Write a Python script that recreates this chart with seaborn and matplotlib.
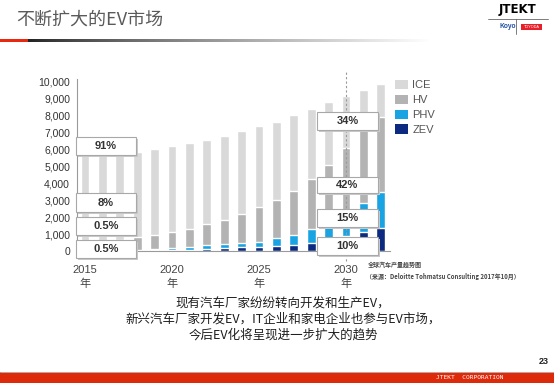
import numpy as np
import pandas as pd
import matplotlib
matplotlib.use('Agg')
import matplotlib.pyplot as plt
from matplotlib.patches import Rectangle, Patch
from matplotlib.lines import Line2D
import seaborn as sns

# ── Datos (miles de vehículos, lectura aproximada del gráfico) ──────────────
years = list(range(2015, 2033))
ice = [5250, 5200, 5150, 5000, 5040, 5030, 5040, 4960, 4960, 4900, 4800, 4610, 4450, 4090, 3680, 3100, 2070, 1920]
hv  = [420, 510, 600, 780, 840, 980, 1070, 1220, 1430, 1730, 2020, 2250, 2590, 2970, 3360, 3760, 4600, 4400]
phv = [20, 25, 30, 45, 60, 110, 160, 230, 230, 220, 300, 460, 610, 780, 1050, 1370, 1660, 2170]
zev = [10, 15, 20, 25, 40, 50, 60, 120, 160, 230, 250, 290, 350, 490, 650, 910, 1140, 1330]

series_names  = ['ICE', 'HV', 'PHV', 'ZEV']
series_colors = ['#d9d9d9', '#b3b3b3', '#1aa3e3', '#0b2a80']
year_labels   = [2015, 2020, 2025, 2030]
y_ticks       = list(range(0, 10001, 1000))
share_2015    = ['91%', '8%', '0.5%', '0.5%']
share_2030    = ['34%', '42%', '15%', '10%']

title   = '不断扩大的EV市场'
caption = ['现有汽车厂家纷纷转向开发和生产EV，',
           '新兴汽车厂家开发EV，IT企业和家电企业也参与EV市场，',
           '今后EV化将呈现进一步扩大的趋势']
source  = ['全球汽车产量趋势图', '（来源：Deloitte Tohmatsu Consulting 2017年10月）']

# ── Estilo ──────────────────────────────────────────────────────────────────
sns.set_style('white')
plt.rcParams['font.family'] = ['Liberation Sans', 'Noto Sans CJK SC']
CJK = ['Noto Sans CJK SC', 'DejaVu Sans']
COL_TEXT = '#333333'
COL_AXIS = '#9a9a9a'

W, H = 554, 383
def fx(x): return x / W
def fy(y): return 1 - y / H

fig = plt.figure(figsize=(W / 100, H / 100), dpi=100, facecolor='white')

# ── Gráfico de barras apiladas ──────────────────────────────────────────────
ax = fig.add_axes([fx(77), fy(251), (389.5 - 77) / W, 172.5 / H])
df = pd.DataFrame({'year': [str(y) for y in years], 'ZEV': zev, 'PHV': phv, 'HV': hv, 'ICE': ice})
cum = df[['ZEV', 'PHV', 'HV', 'ICE']].cumsum(axis=1)

for name, color in zip(series_names, series_colors):
    sns.barplot(x=df['year'], y=cum[name], color=color, width=0.5,
                saturation=1, errorbar=None, ax=ax, zorder=2)

ax.set_xlim(-0.46, 17.5)
ax.set_ylim(0, 10150)
ax.set_xlabel('')
ax.set_ylabel('')
ax.set_yticks(y_ticks)
ax.set_yticklabels([f'{v:,}' for v in y_ticks], fontsize=7.5, color=COL_TEXT)
pos = [years.index(y) for y in year_labels]
ax.set_xticks(pos)
ax.set_xticklabels([f'{y}\n年' for y in year_labels], fontsize=8, color='#444444',
                   linespacing=1.45)
ax.set_xticks(np.arange(len(years)) + 0.5, minor=True)
ax.tick_params(axis='x', which='major', length=0, pad=10)
ax.tick_params(axis='x', which='minor', length=3, width=0.6, color=COL_AXIS, direction='out')
ax.tick_params(axis='y', length=3, width=0.6, color=COL_AXIS, direction='out', pad=2)
ax.spines[['top', 'right']].set_visible(False)
ax.spines[['left', 'bottom']].set_color(COL_AXIS)
ax.spines[['left', 'bottom']].set_linewidth(0.8)

# línea punteada 2030
ax.axvline(years.index(2030), ymin=-0.06, ymax=1.05, clip_on=False,
           color='#999999', lw=0.8, ls=(0, (2, 2)), zorder=5)

# ── Cajas de porcentajes ────────────────────────────────────────────────────
def caja(x0, y0, x1, y1, txt):
    fig.add_artist(Rectangle((fx(x0 + 2), fy(y1 + 2)), (x1 - x0) / W, (y1 - y0) / H,
                             transform=fig.transFigure, fc='#c9c9c9', ec='none', zorder=3))
    fig.add_artist(Rectangle((fx(x0), fy(y1)), (x1 - x0) / W, (y1 - y0) / H,
                             transform=fig.transFigure, fc='white', ec='#a8a8a8', lw=0.8, zorder=4))
    fig.text(fx((x0 + x1) / 2), fy((y0 + y1) / 2), txt, ha='center', va='center',
             fontsize=8, fontweight='bold', color=COL_TEXT, zorder=5)

for (y0, y1), t in zip([(137, 155), (193, 212), (217, 235), (240, 258)], share_2015):
    caja(76, y0, 136, y1, t)
for (y0, y1), t in zip([(112, 130), (177, 193), (209, 227), (237, 255)], share_2030):
    caja(317, y0, 378, y1, t)

# ── Leyenda ────────────────────────────────────────────────────────────────
handles = [Patch(fc=c, ec='none') for c in series_colors]
fig.legend(handles, series_names, loc='upper left', bbox_to_anchor=(fx(395), fy(79.5)),
           frameon=False, fontsize=8, handlelength=1.2, handleheight=1.0,
           handletextpad=0.35, labelspacing=0.38, borderpad=0, borderaxespad=0,
           labelcolor='#555555')

# fuente
fig.text(fx(368), fy(265), source[0], fontsize=4.3, family=CJK, fontweight='bold',
         color='#444444', va='center')
fig.text(fx(366), fy(276), source[1], fontsize=4.3, family=CJK, fontweight='bold',
         color='#444444', va='center')

# ── Encabezado ─────────────────────────────────────────────────────────────
fig.text(fx(16), fy(20), title, fontsize=13, family=CJK, color='#5a5a5a', va='center')

gax = fig.add_axes([0, fy(42), 430 / W, 3 / H])
n = 430
t = np.clip((np.arange(n) - 28) / (n - 28), 0, 1)
shade = 0.13 + 0.87 * t ** 0.8
grad = np.stack([shade, shade, shade], axis=1)
grad[:28] = [0.92, 0.16, 0.06]
gax.imshow(grad[None, :, :], aspect='auto')
gax.axis('off')

# logo
fig.text(fx(517), fy(10), 'JTEKT', fontsize=8.5, fontweight='bold', color='black',
         ha='center', va='center', family='DejaVu Sans')
fig.add_artist(Line2D([fx(488), fx(548)], [fy(18.5), fy(18.5)], color='#666666', lw=0.6))
fig.add_artist(Line2D([fx(516), fx(516)], [fy(19), fy(34)], color='#666666', lw=0.6))
fig.text(fx(508), fy(27), 'Koyo', fontsize=4.8, fontweight='bold', color='#1f4fa0',
         ha='center', va='center')
fig.add_artist(Rectangle((fx(521), fy(30)), 21 / W, 6 / H, transform=fig.transFigure,
                         fc='#e8202a', ec='none'))
fig.text(fx(531.5), fy(27), 'TOYODA', fontsize=2.8, color='white', ha='center', va='center')

# ── Texto inferior ─────────────────────────────────────────────────────────
for i, line in enumerate(caption):
    fig.text(fx(283), fy(303 + 16 * i), line, fontsize=9, family=CJK, color='#1e1e1e',
             ha='center', va='center')

fig.text(fx(549), fy(362), '23', fontsize=6.5, fontweight='bold', color='#222222',
         ha='right', va='center')

fig.add_artist(Rectangle((0, 0), 1, 11 / H, transform=fig.transFigure,
                         fc='#dd2a0b', ec='none'))
fig.add_artist(Line2D([0, 1], [fy(371.5), fy(371.5)], color='#bbbbbb', lw=0.6))
fig.text(fx(503), fy(377.5), 'JTEKT  CORPORATION', fontsize=4.5, color='white',
         ha='right', va='center', family='DejaVu Sans Mono')

fig.savefig('out.png', dpi=100, facecolor='white')
